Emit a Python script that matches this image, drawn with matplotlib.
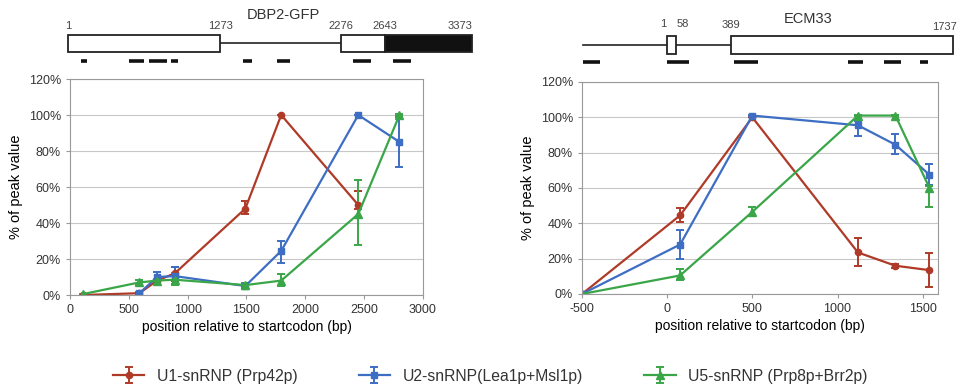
import matplotlib
matplotlib.use("Agg")
import matplotlib.pyplot as plt
import numpy as np

plt.rcParams['font.family'] = ['Liberation Sans', 'DejaVu Sans']
plt.rcParams['text.color'] = '#333333'
plt.rcParams['axes.unicode_minus'] = False

# --- data: DBP2-GFP panel ---
x_dbp_u1 = [110, 590, 740, 890, 1490, 1795, 2450]
u1_dbp = [0, 1, 8, 12, 48, 100, 50]
u1_dbp_lo = [0, 0.5, 7, 8, 45, 100, 48]
u1_dbp_hi = [0, 1.5, 9, 15.5, 52, 100, 58]

x_dbp_u2 = [590, 740, 890, 1490, 1795, 2450, 2800]
u2_dbp = [1, 10, 10.5, 5, 24.5, 100, 85]
u2_dbp_lo = [0.5, 6.5, 6, 4, 18, 100, 71]
u2_dbp_hi = [1.5, 13, 15.5, 6, 30, 100, 99]

x_dbp_u5 = [110, 590, 740, 890, 1490, 1795, 2450, 2800]
u5_dbp = [0.5, 7, 8, 8.5, 5.5, 8, 45, 100]
u5_dbp_lo = [0.5, 5.5, 7, 5.5, 4.5, 5, 28, 99.5]
u5_dbp_hi = [0.5, 8.5, 9, 12, 6.5, 11.5, 64, 100.5]

# --- data: ECM33 panel ---
x_ecm = [-500, 76, 500, 1120, 1340, 1540]
u1_ecm = [0, 44.5, 100, 23.5, 16, 13.5]
u1_ecm_lo = [0, 41, 100, 16, 15, 4]
u1_ecm_hi = [0, 48.5, 100, 31.5, 17, 23]
u2_ecm = [0, 28, 101, 95.5, 84.5, 67.5]
u2_ecm_lo = [0, 20, 100.5, 89.5, 79, 61.5]
u2_ecm_hi = [0, 36, 101.5, 98, 90.5, 73.5]
u5_ecm = [0, 10.5, 46.5, 101, 101, 60]
u5_ecm_lo = [0, 8, 44, 100.5, 100.5, 49.5]
u5_ecm_hi = [0, 14, 49, 101.5, 101.5, 61]

# --- gene structures (bp) ---
dbp_open = [(1, 1273), (2276, 2643)]
dbp_filled = [(2643, 3373)]
dbp_intron = (1273, 2276)
dbp_ticks = [1, 1273, 2276, 2643, 3373]
dbp_amplicons = [(108, 158), (509, 634), (676, 826), (860, 918),
                 (1461, 1536), (1745, 1853), (2379, 2529), (2713, 2863)]

ecm_open = [(1, 58), (389, 1737)]
ecm_line = (-510, 389)
ecm_ticks = [1, 58, 389, 1737]
ecm_amplicons = [(-511, -408), (1, 135), (410, 556), (1098, 1190),
                 (1318, 1422), (1538, 1586)]

labels = ["U1-snRNP (Prp42p)", "U2-snRNP(Lea1p+Msl1p)", "U5-snRNP (Prp8p+Brr2p)"]
colors = ["#b03a28", "#3d6ec4", "#3aa648"]
markers = ["o", "s", "^"]
msizes = [4.5, 5, 5.5]

W, H = 962, 387
fig = plt.figure(figsize=(W / 100, H / 100), dpi=100)


def px_axes(x0, y0, x1, y1):
    return fig.add_axes([x0 / W, 1 - y1 / H, (x1 - x0) / W, (y1 - y0) / H])


def gene_axes(x0, x1, bp_a, px_a, bp_b, px_b):
    ax = px_axes(x0, 0, x1, 75)
    s = (px_b - px_a) / (bp_b - bp_a)
    ax.set_xlim(bp_a - (px_a - x0) / s, bp_a + (x1 - px_a) / s)
    ax.set_ylim(75, 0)
    ax.axis('off')
    return ax


def box(ax, a, b, y0, y1, fc):
    ax.add_patch(plt.Rectangle((a, y0), b - a, y1 - y0, facecolor=fc,
                               edgecolor='#222222', lw=1.3, zorder=3))


# gene diagram DBP2-GFP
g1 = gene_axes(55, 490, 1, 68, 3373, 472)
g1.plot(dbp_intron, [43, 43], color='#222222', lw=1.2, zorder=2)
for a, b in dbp_open:
    box(g1, a, b, 35, 52, 'white')
for a, b in dbp_filled:
    box(g1, a, b, 35, 52, '#111111')
for a, b in dbp_amplicons:
    g1.plot([a, b], [60.5, 60.5], color='#111111', lw=2.6, solid_capstyle='butt')
for i, t in enumerate(dbp_ticks):
    g1.text(t, 26, str(t), ha='right' if i == len(dbp_ticks) - 1 else 'center',
            va='center', fontsize=8, color='#444444')
g1.text(1796, 15, "DBP2-GFP", ha='center', va='center', fontsize=10.5)

# gene diagram ECM33
g2 = gene_axes(570, 962, 1, 667, 1737, 953)
g2.plot(ecm_line, [45, 45], color='#222222', lw=1.2, zorder=2)
for a, b in ecm_open:
    box(g2, a, b, 36, 53.5, 'white')
for a, b in ecm_amplicons:
    g2.plot([a, b], [61.5, 61.5], color='#111111', lw=2.6, solid_capstyle='butt')
g2.text(-20, 24, "1", ha='center', va='center', fontsize=8, color='#444444')
g2.text(95, 24, "58", ha='center', va='center', fontsize=8, color='#444444')
g2.text(389, 25, "389", ha='center', va='center', fontsize=8, color='#444444')
g2.text(1760, 27, "1737", ha='right', va='center', fontsize=8, color='#444444')
g2.text(860, 19, "ECM33", ha='center', va='center', fontsize=10.5)


def style(ax, xlim, xticks):
    ax.set_xlim(*xlim)
    ax.set_ylim(0, 120)
    ax.set_xticks(xticks)
    ax.set_yticks(range(0, 121, 20))
    ax.set_yticklabels([f"{v}%" for v in range(0, 121, 20)])
    ax.yaxis.grid(True, color='#c8c8c8', lw=0.8)
    ax.set_axisbelow(True)
    for sp in ax.spines.values():
        sp.set_color('#999999')
        sp.set_linewidth(0.8)
    ax.tick_params(colors='#999999', labelcolor='#333333', labelsize=9, length=3, width=0.8)
    ax.set_xlabel("position relative to startcodon (bp)", fontsize=10, labelpad=3)
    ax.set_ylabel("% of peak value", fontsize=10.5, labelpad=4)


def series(ax, x, y, lo, hi, k):
    y = np.array(y)
    err = [y - np.array(lo), np.array(hi) - y]
    return ax.errorbar(x, y, yerr=err, color=colors[k], marker=markers[k], ms=msizes[k],
                       lw=1.6, elinewidth=1.4, capsize=3, capthick=1.4, label=labels[k])


ax1 = px_axes(70, 79, 423, 295)
h1 = series(ax1, x_dbp_u1, u1_dbp, u1_dbp_lo, u1_dbp_hi, 0)
h2 = series(ax1, x_dbp_u2, u2_dbp, u2_dbp_lo, u2_dbp_hi, 1)
h3 = series(ax1, x_dbp_u5, u5_dbp, u5_dbp_lo, u5_dbp_hi, 2)
style(ax1, (0, 3000), range(0, 3001, 500))

ax2 = px_axes(582, 82, 938, 294)
series(ax2, x_ecm, u1_ecm, u1_ecm_lo, u1_ecm_hi, 0)
series(ax2, x_ecm, u2_ecm, u2_ecm_lo, u2_ecm_hi, 1)
series(ax2, x_ecm, u5_ecm, u5_ecm_lo, u5_ecm_hi, 2)
style(ax2, (-500, 1590), range(-500, 1501, 500))

fig.legend([h1, h2, h3], labels, loc='center left', bbox_to_anchor=(113 / W, 1 - 376 / H),
           ncol=3, frameon=False, borderpad=0, borderaxespad=0, handlelength=2.0,
           handletextpad=0.8, columnspacing=3.9, prop=dict(size=11.3))

fig.savefig("out.png", dpi=100)
